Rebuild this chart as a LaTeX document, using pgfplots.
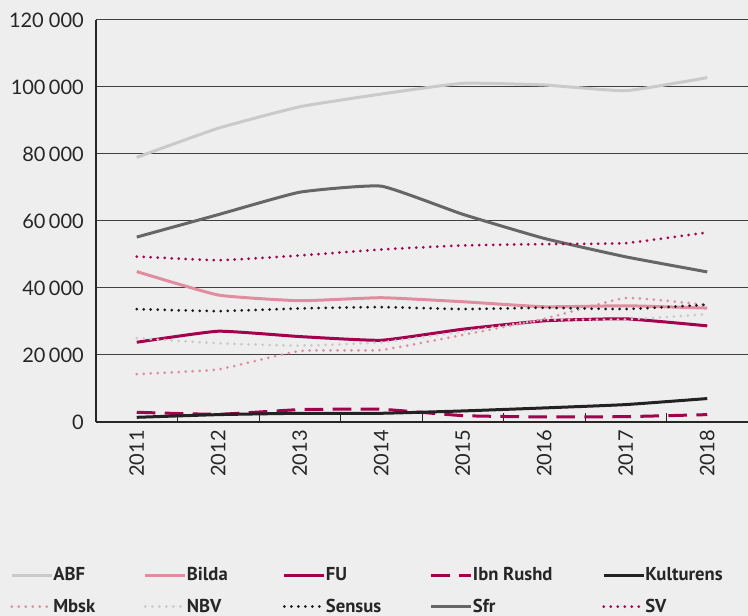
\documentclass[border=0pt]{standalone}
\usepackage{pgfplots}
\pgfplotsset{compat=1.18}
\usepackage{fontspec}
\setmainfont{Lato}
\newfontfamily\legfont{PT Sans}
\definecolor{bg}{HTML}{EEEEEE}
\definecolor{cabf}{HTML}{CACACA}
\definecolor{cbilda}{HTML}{E08DA0}
\definecolor{cfu}{HTML}{A3004D}
\definecolor{ckult}{HTML}{222222}
\definecolor{csfr}{HTML}{666666}
\definecolor{csens}{HTML}{1A1A1A}
\tikzset{dotty/.style={line width=2.25pt, line cap=round, dash pattern=on 0pt off 5.25pt}}
\begin{document}
\begin{tikzpicture}
\fill[bg] (0,0) rectangle (561pt,462pt);
\begin{axis}[
 at={(72pt,145.5pt)}, anchor=south west,
 scale only axis, width=489pt, height=301.5pt,
 xmin=2010.5, xmax=2018.5, ymin=0, ymax=120000,
 scaled y ticks=false,
 axis x line*=bottom, axis y line*=left,
 axis line style={black!85, line width=0.9pt},
 xtick={2011,2012,2013,2014,2015,2016,2017,2018},
 xticklabels={2011,2012,2013,2014,2015,2016,2017,2018},
 ytick={0,20000,40000,60000,80000,100000,120000},
 yticklabels={0,20\,000,40\,000,60\,000,80\,000,100\,000,120 000},
 ymajorgrids, grid style={black!75, line width=0.75pt},
 major tick length=0pt,
 extra x ticks={2011.5,2012.5,2013.5,2014.5,2015.5,2016.5,2017.5},
 extra x tick labels={},
 extra x tick style={major tick length=6.75pt, tick align=inside, tick style={black!85, line width=0.75pt}},
 tick label style={font=\fontsize{15}{18}\selectfont, inner sep=0pt, text=black!85},
 xticklabel style={rotate=90, anchor=east},
 xticklabel shift=6pt, yticklabel shift=9pt,
 legend columns=5, legend cell align=left,
 legend style={at={(-0.1319,-0.3615)}, anchor=north west, draw=none, fill=none,
   inner sep=0pt, row sep=12pt, column sep=0pt,
   /tikz/every even column/.style={column sep=6pt},
   nodes={inner sep=0pt},
   font=\legfont\bfseries\fontsize{14}{16}\selectfont, text=black!85},
 legend image code/.code={\draw[#1] (0pt,0pt) -- (30pt,0pt);},
 every axis plot/.append style={smooth, tension=0.25},
]
\addplot[cabf, line width=2.25pt] coordinates {(2011,79000)(2012,87700)(2013,94100)(2014,97900)(2015,101100)(2016,100600)(2017,98900)(2018,102800)};
\addlegendentry{\makebox[62pt][l]{ABF}}
\addplot[cbilda, line width=2.25pt] coordinates {(2011,44900)(2012,37900)(2013,36200)(2014,37100)(2015,35900)(2016,34400)(2017,34700)(2018,34000)};
\addlegendentry{\makebox[66pt][l]{Bilda}}
\addplot[cfu, line width=2.25pt] coordinates {(2011,23800)(2012,27100)(2013,25500)(2014,24400)(2015,27700)(2016,30200)(2017,30800)(2018,28700)};
\addlegendentry{\makebox[72pt][l]{FU}}
\addplot[cfu, line width=2.25pt, dash pattern=on 14pt off 7pt] coordinates {(2011,2900)(2012,2300)(2013,3700)(2014,3800)(2015,1900)(2016,1500)(2017,1600)(2018,2200)};
\addlegendentry{\makebox[91pt][l]{Ibn Rushd}}
\addplot[ckult, line width=2.25pt] coordinates {(2011,1400)(2012,2200)(2013,2600)(2014,2600)(2015,3300)(2016,4200)(2017,5200)(2018,7000)};
\addlegendentry{\makebox[70pt][l]{Kulturens}}
\addplot[cbilda, dotty] coordinates {(2011,14300)(2012,15700)(2013,21200)(2014,21500)(2015,26000)(2016,30800)(2017,37000)(2018,34900)};
\addlegendentry{\makebox[62pt][l]{Mbsk}}
\addplot[cabf, dotty] coordinates {(2011,25000)(2012,23500)(2013,22800)(2014,23800)(2015,27000)(2016,30400)(2017,30600)(2018,32200)};
\addlegendentry{\makebox[66pt][l]{NBV}}
\addplot[csens, dotty] coordinates {(2011,33700)(2012,33100)(2013,33900)(2014,34300)(2015,33700)(2016,34100)(2017,33700)(2018,35000)};
\addlegendentry{\makebox[72pt][l]{Sensus}}
\addplot[csfr, line width=2.25pt] coordinates {(2011,55200)(2012,61900)(2013,68600)(2014,70400)(2015,62000)(2016,54800)(2017,49300)(2018,44800)};
\addlegendentry{\makebox[91pt][l]{Sfr}}
\addplot[cfu, dotty] coordinates {(2011,49400)(2012,48300)(2013,49700)(2014,51500)(2015,52700)(2016,53100)(2017,53400)(2018,56600)};
\addlegendentry{\makebox[70pt][l]{SV}}
\end{axis}
\pgfresetboundingbox
\useasboundingbox (0,0) rectangle (561pt,462pt);
\end{tikzpicture}
\end{document}
